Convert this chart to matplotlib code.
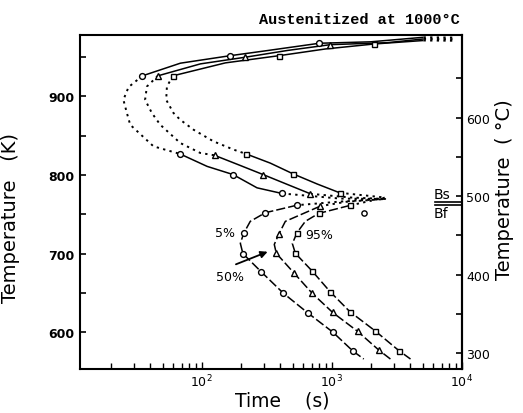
import matplotlib
matplotlib.use("Agg")
import matplotlib.pyplot as plt
from matplotlib.ticker import FixedLocator, NullFormatter, FixedFormatter

# ---------------- data (time in s, temperature in K) ----------------
# 5 % transformation
m5_up_t = [35, 166, 802, 68, 174, 414]
m5_up_T = [926.3, 952.0, 967.8, 826.9, 800.6, 776.5]
m5_lo_t = [540, 308, 210, 207, 287, 424, 652, 1016, 1450]
m5_lo_T = [761.6, 752, 725.7, 700, 676.6, 649.5, 624.5, 600, 575.9]
p5_end_t = [5060, 8900]
p5_end_T = [975.4, 975.0]
p5_top_t = [5060, 1977, 802, 317, 166, 68.5, 35]
p5_top_T = [975.4, 969.6, 967.8, 958.4, 952.0, 942.4, 926.3]
p5_nose_t = [35, 27.4, 25, 26.6, 28.2, 42.6, 68]
p5_nose_T = [926.3, 912, 895.8, 878.9, 864, 836.5, 826.9]
p5_bot_t = [68, 110, 174, 266, 414]
p5_bot_T = [826.9, 811, 800.6, 783.7, 776.5]
p5_conv_t = [414, 1161, 2570, 1161, 540]
p5_conv_T = [776.5, 770, 769.5, 766.2, 761.6]
p5_bain_t = [540, 308, 236, 210, 198, 207, 287, 424, 652, 1016, 1450, 1758]
p5_bain_T = [761.6, 752, 741, 725.7, 713, 700, 676.6, 649.5, 624.5, 600, 575.9, 565.7]

# 50 % transformation
m50_up_t = [46, 216, 973, 125.4, 296, 684]
m50_up_T = [926.3, 950.0, 966.0, 825.1, 800.6, 776.1]
m50_lo_t = [815, 390, 374, 508, 705, 1014, 1578, 2291]
m50_lo_T = [760.4, 724.4, 700.3, 675.8, 649.5, 625, 600.9, 577.2]
p50_end_t = [5080, 8900]
p50_end_T = [973.3, 973.0]
p50_top_t = [5080, 2650, 973, 455, 216, 97.5, 46]
p50_top_T = [973.3, 968.5, 966.0, 958.6, 950.0, 941.5, 926.3]
p50_nose_t = [46, 37.9, 36.7, 41.4, 48, 68.3, 97.4, 125.4]
p50_nose_T = [926.3, 912.7, 895.8, 878.9, 864, 840.8, 828.1, 825.1]
p50_bot_t = [125.4, 190, 296, 455, 684]
p50_bot_T = [825.1, 813.3, 800.6, 788, 776.1]
p50_conv_t = [684, 1387, 2570, 1300, 815]
p50_conv_T = [776.1, 771.4, 769.5, 766, 760.4]
p50_bain_t = [815, 439, 390, 361, 374, 508, 705, 1014, 1578, 2291, 2818]
p50_bain_T = [760.4, 741, 724.4, 711.6, 700.3, 675.8, 649.5, 625, 600.9, 577.2, 565.7]

# 95 % transformation
m95_up_t = [60, 394, 2124, 219, 503, 1148]
m95_up_T = [926.3, 952.0, 966.9, 826.9, 801.5, 777.4]
m95_lo_t = [1371, 791, 540, 524, 705, 973, 1375, 2136, 3268]
m95_lo_T = [761.2, 751.1, 726.6, 700.3, 677.8, 651.1, 626, 601.9, 576.5]
p95_end_t = [5060, 8900]
p95_end_T = [971.3, 971.0]
p95_top_t = [5060, 2124, 890, 394, 152, 60]
p95_top_T = [971.3, 966.9, 960.5, 952.0, 942.8, 926.3]
p95_nose_t = [60, 54, 53.3, 60.7, 68.3, 86.5, 123, 176, 219]
p95_nose_T = [926.3, 912.7, 895.8, 878.9, 870.4, 857.7, 842.9, 832.3, 826.9]
p95_bot_t = [219, 336, 503, 773, 1148]
p95_bot_T = [826.9, 815.2, 801.5, 788.5, 777.4]
p95_conv_t = [1148, 2570, 1371]
p95_conv_T = [777.4, 771.3, 761.2]
p95_bain_t = [1371, 791, 625, 540, 497, 524, 705, 973, 1375, 2136, 3268, 4020]
p95_bain_T = [761.2, 751.1, 741, 726.6, 712.7, 700.3, 677.8, 651.1, 626, 601.9, 576.5, 565.7]

lone_t = [1758]
lone_T = [752]

bs_T = 765.4
bf_T = 761.2

yticks_K = [600, 700, 800, 900]
yminor_K = [650, 750, 850, 950]
yticks_C = [300, 400, 500, 600]
yminor_C = [350, 450, 550, 650]
xticks = [100, 1000, 10000]
xtick_labels = ["$10^2$", "$10^3$", "$10^4$"]

# ---------------- figure ----------------
fig = plt.figure(figsize=(5.23, 4.14), dpi=100)
ax = fig.add_axes([80/523, 1-370/414, (462-80)/523, (370-36)/414])
ax.set_xscale("log")
ax.set_xlim(11.6, 10000)
ax.set_ylim(553, 978.3)

lw = 1.1
def solid(t, T):
    ax.plot(t, T, color="black", lw=lw, solid_capstyle="butt", zorder=2)
def dotted(t, T):
    ax.plot(t, T, color="black", lw=1.4, ls=(0, (1.2, 2.2)), zorder=2)
def dashed(t, T):
    ax.plot(t, T, color="black", lw=lw, ls=(0, (6, 2)), zorder=2)

for (e_t, e_T, top_t, top_T, n_t, n_T, b_t, b_T, c_t, c_T, bn_t, bn_T) in [
        (p5_end_t, p5_end_T, p5_top_t, p5_top_T, p5_nose_t, p5_nose_T, p5_bot_t, p5_bot_T,
         p5_conv_t, p5_conv_T, p5_bain_t, p5_bain_T),
        (p50_end_t, p50_end_T, p50_top_t, p50_top_T, p50_nose_t, p50_nose_T, p50_bot_t, p50_bot_T,
         p50_conv_t, p50_conv_T, p50_bain_t, p50_bain_T),
        (p95_end_t, p95_end_T, p95_top_t, p95_top_T, p95_nose_t, p95_nose_T, p95_bot_t, p95_bot_T,
         p95_conv_t, p95_conv_T, p95_bain_t, p95_bain_T)]:
    dotted(e_t, e_T)
    solid(top_t, top_T)
    dotted(n_t, n_T)
    solid(b_t, b_T)
    dotted(c_t, c_T)
    dashed(bn_t, bn_T)

mk = dict(ls="none", mfc="white", mec="black", mew=1.0, zorder=3)
ax.plot(m5_up_t + m5_lo_t, m5_up_T + m5_lo_T, marker="o", ms=4.2, **mk)
ax.plot(m50_up_t + m50_lo_t, m50_up_T + m50_lo_T, marker="^", ms=3.8, **mk)
ax.plot(m95_up_t + m95_lo_t, m95_up_T + m95_lo_T, marker="s", ms=3.6, **mk)
ax.plot(lone_t, lone_T, marker="o", ms=3.8, **mk)

# Bs / Bf
ax.plot([6250, 10000], [bs_T, bs_T], color="black", lw=1.2)
ax.plot([6250, 10000], [bf_T, bf_T], color="black", lw=1.2)
ax.text(6030, 771, "Bs", fontsize=10, ha="left", va="baseline")
ax.text(6000, 746, "Bf", fontsize=10, ha="left", va="baseline")

# labels for curves
ax.text(152, 727, "5%", fontsize=9, ha="center", va="center")
ax.text(625, 724.4, "95%", fontsize=9, ha="left", va="center")
ax.text(166, 671, "50%", fontsize=9, ha="center", va="center")
ax.annotate("", xy=(336, 703.6), xytext=(175, 685),
            arrowprops=dict(arrowstyle="-|>", color="black", lw=1.3, mutation_scale=10))

# axes styling
for s in ax.spines.values():
    s.set_linewidth(1.5)
ax.xaxis.set_major_locator(FixedLocator(xticks))
ax.xaxis.set_major_formatter(FixedFormatter(xtick_labels))
ax.xaxis.set_minor_locator(matplotlib.ticker.LogLocator(base=10, subs=range(2, 10)))
ax.xaxis.set_minor_formatter(NullFormatter())
ax.tick_params(axis="x", which="both", direction="in", length=4, width=1, labelsize=9, pad=3)
ax.tick_params(axis="x", which="major", length=5)

ax.yaxis.set_major_locator(FixedLocator(yticks_K))
ax.yaxis.set_minor_locator(FixedLocator(yminor_K))
ax.tick_params(axis="y", which="both", direction="in", length=4, width=1.2, labelsize=9, pad=4,
               right=False)
for lab in ax.get_yticklabels():
    lab.set_fontweight("bold")

ax2 = ax.secondary_yaxis("right", functions=(lambda K: K - 273, lambda C: C + 273))
ax2.yaxis.set_major_locator(FixedLocator(yticks_C))
ax2.yaxis.set_minor_locator(FixedLocator(yminor_C))
ax2.tick_params(which="both", direction="in", length=4, width=1.2, labelsize=9, pad=3)
ax2.spines["right"].set_linewidth(1.5)

ax.set_ylabel("Temperature   (K)", fontsize=14)
ax.yaxis.set_label_coords(-0.157, 0.455)
ax.set_xlabel("Time    (s)", fontsize=13.5)
ax.xaxis.set_label_coords(0.53, -0.063)

fig.text(505/523, 1-190/414, "Temperature  ( °C)", fontsize=14, rotation=90,
         ha="center", va="center")

fig.text(460/523, 1-20/414, "Austenitized at 1000°C", ha="right", va="center",
         family="Liberation Mono", fontweight="bold", fontsize=11)

fig.savefig("out.png", dpi=100)
